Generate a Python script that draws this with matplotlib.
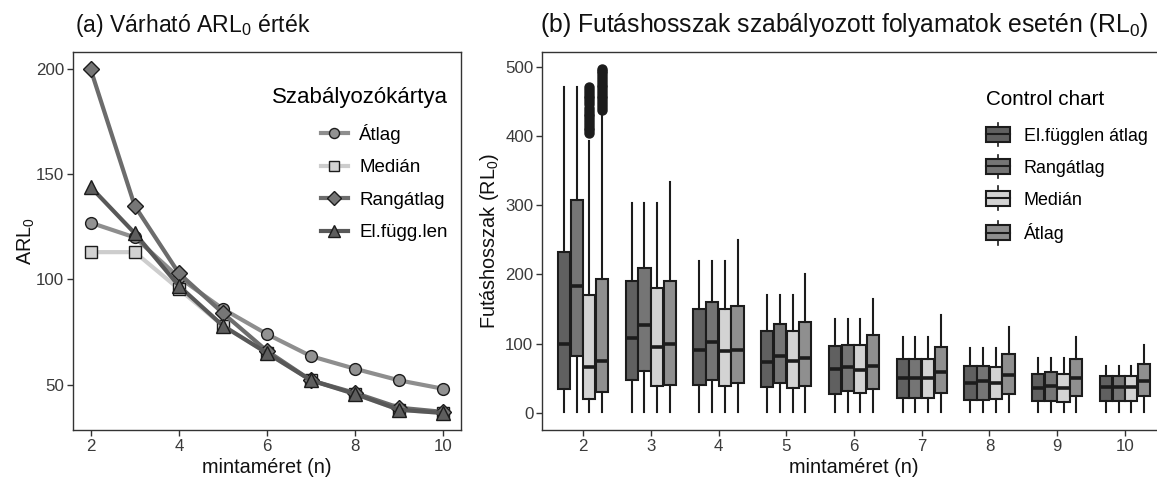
import matplotlib
matplotlib.use("Agg")
import matplotlib.pyplot as plt
import numpy as np
from matplotlib.lines import Line2D
from matplotlib.patches import Patch, Rectangle
from matplotlib.legend_handler import HandlerBase

plt.rcParams['font.family'] = ['Liberation Sans', 'DejaVu Sans']
plt.rcParams['mathtext.fontset'] = 'custom'
plt.rcParams['mathtext.rm'] = 'Liberation Sans'
plt.rcParams['mathtext.default'] = 'regular'

# ---- data: (a) expected ARL0 ----
n_sizes = [2, 3, 4, 5, 6, 7, 8, 9, 10]
line_names = ["Átlag", "Medián", "Rangátlag", "El.függ.len"]
arl_atlag = [127, 120, 101, 86, 74, 63.5, 57.5, 52, 48]
arl_median = [113, 113, 95.5, 78, 65, 52, 45.5, 38, 36.5]
arl_rang = [200, 135, 103, 84, 66, 52, 46, 39, 37]
arl_elf = [144, 122, 97, 78, 65, 52, 45.5, 38, 36.5]

# ---- data: (b) run length boxplots ----
box_names = ["El.függlen átlag", "Rangátlag", "Medián", "Átlag"]
box_q1 = [
    [34.5, 47.5, 41, 37, 28, 22, 19, 17, 18],
    [83, 60, 48, 43, 32.5, 22, 19, 17.5, 18],
    [20, 39, 39, 36, 29, 22, 20, 16, 17.5],
    [30, 41, 43, 39, 34.5, 29, 28, 25, 25],
]
box_med = [
    [100, 108, 91, 73, 63, 50, 44, 36, 38],
    [184, 127, 102, 83, 67, 50, 45.5, 39, 38],
    [66, 96, 90, 75, 62, 50, 44, 36, 38],
    [75, 100, 91, 79, 68, 59, 55, 50, 46.5],
]
box_q3 = [
    [232, 190, 150, 119, 97, 78, 68, 56.5, 53],
    [307, 209, 160, 129, 98, 78, 68, 58.5, 53],
    [171, 180, 150, 119, 98, 78, 67, 56.5, 53],
    [194, 190, 154, 131, 112, 95, 85, 78, 71],
]
box_whishi = [
    [470, 303, 220, 170, 135, 110, 94, 80, 68],
    [470, 303, 220, 170, 135, 110, 94, 80, 68],
    [393, 303, 220, 170, 135, 110, 94, 80, 68],
    [435, 333, 250, 200, 165, 141, 124, 109, 98],
]
box_whislo = 1
fliers_median_n2 = [404, 408, 412, 416, 420, 424, 428, 432, 436, 440, 446, 450,
                    454, 458, 462, 466, 470]
fliers_atlag_n2 = [438, 442, 446, 450, 454, 458, 462, 466, 470, 474, 478, 482,
                   486, 490, 494, 497]

line_colors = ["#8e8e8e", "#cdcdcd", "#6c6c6c", "#585858"]
marker_fill = ["#929292", "#d2d2d2", "#767676", "#5e5e5e"]
markers = ["o", "s", "D", "^"]
msizes = [8.5, 8, 8, 9.5]
box_colors = ["#606060", "#757575", "#d3d3d3", "#8f8f8f"]
dark = "#1c1c1c"
axis_grey = "#333333"

fig = plt.figure(figsize=(11.57, 4.78), dpi=100)
W, H = 1157, 478


def px_axes(x0, y0, x1, y1):
    return fig.add_axes([x0 / W, 1 - y1 / H, (x1 - x0) / W, (y1 - y0) / H])


def style(ax):
    for s in ax.spines.values():
        s.set_color(axis_grey)
        s.set_linewidth(1.0)
    ax.tick_params(colors=axis_grey, labelcolor="#3a3a3a", labelsize=12.2,
                   length=4, width=1.0, pad=2.5)


# ---- panel (a) ----
ax1 = px_axes(73, 52, 461, 430)
series = [arl_atlag, arl_median, arl_rang, arl_elf]
for i, vals in enumerate(series):
    ax1.plot(n_sizes, vals, color=line_colors[i], lw=3.0, marker=markers[i],
             markersize=msizes[i], markerfacecolor=marker_fill[i],
             markeredgecolor=dark, markeredgewidth=1.0, label=line_names[i],
             zorder=2 + i)
ax1.set_xlim(1.6, 10.4)
ax1.set_ylim(28.4, 208.2)
ax1.set_xticks([2, 4, 6, 8, 10])
ax1.set_yticks([50, 100, 150, 200])
style(ax1)
ax1.set_xlabel("mintaméret (n)", fontsize=14.3, color="#111111", labelpad=3)
ax1.set_ylabel("ARL$_0$", fontsize=14.3, color="#111111", labelpad=-1)
ax1.text(0.005, 1.035, "(a) Várható ARL$_0$ érték", transform=ax1.transAxes,
         fontsize=16.6, ha="left", va="bottom", color="#111111")

handles1 = [Line2D([], [], color=line_colors[i], lw=3.0, marker=markers[i],
                   markersize=msizes[i] * 0.85, markerfacecolor=marker_fill[i],
                   markeredgecolor=dark, markeredgewidth=1.0)
            for i in range(4)]
leg1 = ax1.legend(handles1, line_names, title="Szabályozókártya",
                  loc="upper right", bbox_to_anchor=(457 / W, 1 - 78 / H),
                  bbox_transform=fig.transFigure, frameon=False, fontsize=13.5,
                  title_fontsize=16, handlelength=1.45, handletextpad=0.6,
                  labelspacing=0.82, borderpad=0, alignment="right")
leg1._legend_box.sep = 11

# ---- panel (b) ----
ax2 = px_axes(542.4, 52, 1165.6, 430)
offsets = [-0.28125, -0.09375, 0.09375, 0.28125]
for s in range(4):
    stats = []
    for j, n in enumerate(n_sizes):
        fl = []
        if n == 2 and s == 2:
            fl = fliers_median_n2
        if n == 2 and s == 3:
            fl = fliers_atlag_n2
        stats.append(dict(med=box_med[s][j], q1=box_q1[s][j], q3=box_q3[s][j],
                          whislo=box_whislo, whishi=box_whishi[s][j], fliers=fl))
    pos = [n + offsets[s] for n in n_sizes]
    ax2.bxp(stats, positions=pos, widths=0.18, patch_artist=True,
            showcaps=False,
            boxprops=dict(facecolor=box_colors[s], edgecolor=dark, linewidth=1.5),
            medianprops=dict(color=dark, linewidth=2.6),
            whiskerprops=dict(color=dark, linewidth=1.5),
            flierprops=dict(marker="o", markersize=6.5, markerfacecolor=dark,
                            markeredgecolor=dark))
ax2.set_xlim(1.4, 10.6)
ax2.set_ylim(-24.5, 521)
ax2.set_xticks(n_sizes)
ax2.set_xticklabels([str(n) for n in n_sizes])
ax2.set_yticks([0, 100, 200, 300, 400, 500])
style(ax2)
ax2.set_xlabel("mintaméret (n)", fontsize=14.3, color="#111111", labelpad=3)
ax2.set_ylabel("Futáshosszak (RL$_0$)", fontsize=14.3, color="#111111",
               labelpad=3)
ax2.text(-0.004, 1.035, "(b) Futáshosszak szabályozott folyamatok esetén (RL$_0$)",
         transform=ax2.transAxes, fontsize=17.8, ha="left", va="bottom",
         color="#111111")


class BoxHandler(HandlerBase):
    def create_artists(self, legend, orig_handle, xdescent, ydescent, width,
                       height, fontsize, trans):
        x0, y0 = -xdescent, -ydescent
        cx = x0 + width / 2
        wl = Line2D([cx, cx], [y0 - 0.3 * height, y0 + 1.3 * height],
                    color=dark, lw=1.2, transform=trans)
        rect = Rectangle((x0, y0), width, height,
                         facecolor=orig_handle.get_facecolor(), edgecolor=dark,
                         lw=1.5, transform=trans)
        md = Line2D([x0, x0 + width], [y0 + height / 2] * 2, color=dark, lw=1.5,
                    transform=trans)
        return [wl, rect, md]


handles2 = [Patch(facecolor=c) for c in box_colors]
leg2 = ax2.legend(handles2, box_names, title="Control chart", loc="upper left",
                  bbox_to_anchor=(977 / W, 1 - 81 / H),
                  bbox_transform=fig.transFigure, frameon=False, fontsize=12.9,
                  title_fontsize=14.9, handlelength=1.35, handleheight=0.9,
                  handletextpad=0.75, labelspacing=0.8, borderpad=0,
                  alignment="left", handler_map={Patch: BoxHandler()})
leg2._legend_box.sep = 13

fig.savefig("out.png", dpi=100)
